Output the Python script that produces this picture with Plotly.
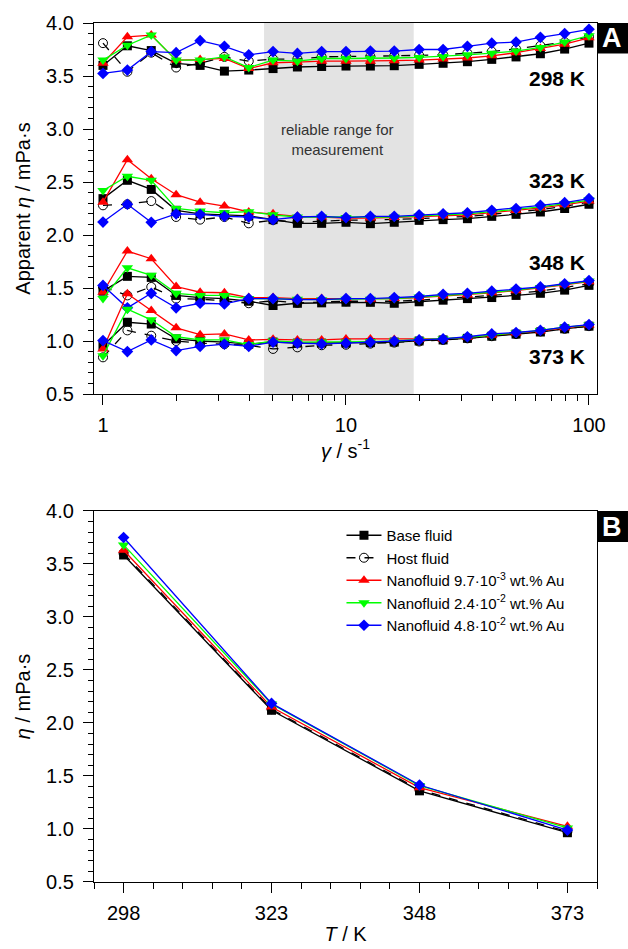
import plotly.graph_objects as go

# ---------------- data ----------------
shear_rate = [1.0, 1.26, 1.58, 2.0, 2.51, 3.16, 3.98, 5.01, 6.31, 7.94, 10.0,
              12.6, 15.8, 20.0, 25.1, 31.6, 39.8, 50.1, 63.1, 79.4, 100.0]

series_names = ["Base fluid", "Host fluid",
                "Nanofluid 9.7·10<sup>-3</sup> wt.% Au",
                "Nanofluid 2.4·10<sup>-2</sup> wt.% Au",
                "Nanofluid 4.8·10<sup>-2</sup> wt.% Au"]

# 298 K
base_298 = [3.60, 3.785, 3.74, 3.62, 3.60, 3.546, 3.556, 3.57, 3.585, 3.59, 3.594, 3.594, 3.597, 3.61, 3.62, 3.635, 3.657, 3.68, 3.71, 3.754, 3.81]
host_298 = [3.81, 3.54, 3.72, 3.58, 3.62, 3.68, 3.64, 3.66, 3.66, 3.68, 3.685, 3.685, 3.69, 3.695, 3.70, 3.715, 3.73, 3.755, 3.785, 3.82, 3.87]
red_298 = [3.62, 3.87, 3.886, 3.65, 3.655, 3.666, 3.57, 3.625, 3.63, 3.64, 3.64, 3.64, 3.645, 3.65, 3.66, 3.67, 3.69, 3.72, 3.76, 3.80, 3.86]
green_298 = [3.65, 3.79, 3.886, 3.65, 3.65, 3.68, 3.58, 3.65, 3.64, 3.665, 3.665, 3.665, 3.67, 3.675, 3.685, 3.70, 3.715, 3.735, 3.77, 3.82, 3.88]
blue_298 = [3.524, 3.556, 3.73, 3.72, 3.833, 3.78, 3.70, 3.73, 3.713, 3.73, 3.73, 3.735, 3.735, 3.75, 3.75, 3.78, 3.81, 3.82, 3.865, 3.90, 3.94]

# 323 K
base_323 = [2.343, 2.516, 2.43, 2.233, 2.20, 2.19, 2.18, 2.145, 2.11, 2.11, 2.12, 2.107, 2.12, 2.138, 2.145, 2.154, 2.176, 2.195, 2.217, 2.25, 2.29]
host_323 = [2.28, 2.29, 2.32, 2.17, 2.145, 2.17, 2.11, 2.14, 2.12, 2.13, 2.14, 2.14, 2.145, 2.155, 2.165, 2.175, 2.195, 2.215, 2.24, 2.27, 2.31]
red_323 = [2.31, 2.71, 2.53, 2.38, 2.31, 2.273, 2.217, 2.20, 2.176, 2.17, 2.16, 2.16, 2.165, 2.175, 2.18, 2.19, 2.21, 2.23, 2.255, 2.285, 2.32]
green_323 = [2.42, 2.554, 2.516, 2.25, 2.226, 2.21, 2.22, 2.19, 2.17, 2.17, 2.165, 2.165, 2.17, 2.18, 2.19, 2.20, 2.22, 2.24, 2.265, 2.295, 2.33]
blue_323 = [2.122, 2.29, 2.12, 2.20, 2.195, 2.176, 2.17, 2.145, 2.17, 2.176, 2.164, 2.176, 2.176, 2.19, 2.20, 2.21, 2.233, 2.25, 2.28, 2.305, 2.343]

# 348 K
base_348 = [1.47, 1.61, 1.60, 1.43, 1.41, 1.40, 1.375, 1.335, 1.356, 1.36, 1.366, 1.365, 1.356, 1.37, 1.385, 1.40, 1.41, 1.43, 1.45, 1.48, 1.525]
host_348 = [1.51, 1.43, 1.51, 1.40, 1.395, 1.38, 1.356, 1.38, 1.36, 1.37, 1.375, 1.375, 1.375, 1.385, 1.40, 1.41, 1.43, 1.45, 1.47, 1.505, 1.54]
red_348 = [1.46, 1.848, 1.776, 1.514, 1.46, 1.455, 1.41, 1.41, 1.40, 1.40, 1.40, 1.395, 1.40, 1.41, 1.425, 1.435, 1.455, 1.475, 1.50, 1.53, 1.56]
green_348 = [1.40, 1.69, 1.62, 1.45, 1.43, 1.43, 1.40, 1.395, 1.395, 1.39, 1.395, 1.395, 1.40, 1.415, 1.43, 1.44, 1.46, 1.48, 1.505, 1.535, 1.565]
blue_348 = [1.524, 1.313, 1.45, 1.313, 1.356, 1.35, 1.40, 1.40, 1.39, 1.39, 1.40, 1.40, 1.41, 1.42, 1.44, 1.45, 1.47, 1.49, 1.51, 1.54, 1.57]

# 373 K
base_373 = [0.956, 1.177, 1.16, 1.02, 1.0, 0.99, 0.97, 0.99, 0.98, 0.98, 0.98, 0.985, 0.99, 1.0, 1.01, 1.025, 1.045, 1.065, 1.085, 1.115, 1.14]
host_373 = [0.846, 1.10, 1.05, 1.0, 0.98, 0.97, 0.96, 0.925, 0.94, 0.96, 0.965, 0.975, 0.985, 0.995, 1.01, 1.025, 1.045, 1.065, 1.09, 1.115, 1.14]
red_373 = [0.925, 1.445, 1.287, 1.124, 1.06, 1.067, 1.01, 1.016, 1.01, 1.01, 1.02, 1.02, 1.015, 1.015, 1.02, 1.035, 1.055, 1.075, 1.095, 1.125, 1.15]
green_373 = [0.862, 1.30, 1.20, 1.04, 1.01, 1.01, 0.966, 1.0, 0.99, 0.99, 0.99, 0.995, 1.0, 1.01, 1.02, 1.035, 1.055, 1.075, 1.10, 1.13, 1.15]
blue_373 = [1.004, 0.90, 1.01, 0.91, 0.95, 0.97, 0.95, 0.99, 0.98, 0.973, 0.98, 0.99, 1.0, 1.01, 1.02, 1.04, 1.067, 1.08, 1.10, 1.13, 1.155]

temp_labels = ["298 K", "323 K", "348 K", "373 K"]
temp_label_y = [3.48, 2.51, 1.74, 0.855]

# Panel B: viscosity vs temperature
temperature = [298, 323, 348, 373]
base_T = [3.585, 2.12, 1.36, 0.965]
host_T = [3.60, 2.13, 1.37, 0.975]
red_T = [3.63, 2.15, 1.39, 1.025]
green_T = [3.68, 2.18, 1.41, 1.01]
blue_T = [3.75, 2.185, 1.415, 0.99]

reliable_range = [4.6, 19.0]

# ---------------- style ----------------
FONT = "Liberation Sans, Arial, sans-serif"
styles = [
    dict(color="black", symbol="square", fill="black", dash="solid", size=9),
    dict(color="black", symbol="circle-open", fill="black", dash="dash", size=9),
    dict(color="#ff0000", symbol="triangle-up", fill="#ff0000", dash="solid", size=10),
    dict(color="#00ff00", symbol="triangle-down", fill="#00ff00", dash="solid", size=10),
    dict(color="#0000ff", symbol="diamond", fill="#0000ff", dash="solid", size=9),
]

panelA = [
    [base_298, host_298, red_298, green_298, blue_298],
    [base_323, host_323, red_323, green_323, blue_323],
    [base_348, host_348, red_348, green_348, blue_348],
    [base_373, host_373, red_373, green_373, blue_373],
]
panelB = [base_T, host_T, red_T, green_T, blue_T]


def marker_for(i):
    s = styles[i]
    return dict(symbol=s["symbol"], size=s["size"], color=s["fill"],
                line=dict(width=1 if i == 1 else 0, color=s["color"]))


fig = go.Figure()

for temp_series in panelA:
    for i, ys in enumerate(temp_series):
        s = styles[i]
        fig.add_trace(go.Scatter(
            x=shear_rate, y=ys, mode="lines+markers",
            line=dict(color=s["color"], width=1.3, dash=s["dash"]),
            marker=marker_for(i),
            showlegend=False, xaxis="x", yaxis="y", name=series_names[i]))

for i, ys in enumerate(panelB):
    s = styles[i]
    fig.add_trace(go.Scatter(
        x=temperature, y=ys, mode="lines+markers",
        line=dict(color=s["color"], width=1.3, dash=s["dash"]),
        marker=marker_for(i),
        showlegend=True, xaxis="x2", yaxis="y2", name=series_names[i]))

axis_common = dict(showline=True, linecolor="black", linewidth=1.3, mirror=True,
                   ticks="outside", tickcolor="black", tickwidth=1.3, showgrid=False,
                   zeroline=False, automargin=False,
                   tickfont=dict(family=FONT, size=20, color="black"))
title_font = dict(family=FONT, size=20, color="black")

fig.update_layout(
    width=628, height=949,
    margin=dict(l=94, r=31, t=23, b=67),
    paper_bgcolor="white", plot_bgcolor="white",
    font=dict(family=FONT, color="black"),
    xaxis=dict(type="log", range=[-0.037, 2.033], tickvals=[1, 10, 100], ticktext=["1", "10", "100"],
               ticklen=10, anchor="y", ticklabelstandoff=3,
               minor=dict(tickvals=[2, 3, 4, 5, 6, 7, 8, 9, 20, 30, 40, 50, 60, 70, 80, 90],
                          ticks="outside", ticklen=6, tickwidth=1.3, tickcolor="black"),
               title=dict(text="<i>γ</i> / s<sup>-1</sup>", font=title_font, standoff=8),
               **axis_common),
    yaxis=dict(domain=[0.5681, 1.0], range=[0.5, 4.0], tickvals=[0.5, 1.0, 1.5, 2.0, 2.5, 3.0, 3.5, 4.0],
               tickformat=".1f", ticklen=10, anchor="x", ticklabelstandoff=5,
               minor=dict(dtick=0.1, ticks="outside", ticklen=5, tickwidth=1.3, tickcolor="black"),
               title=dict(text="Apparent <i>η</i> / mPa·s", font=title_font, standoff=10),
               **axis_common),
    xaxis2=dict(range=[293, 378], tickvals=[298, 323, 348, 373], ticklen=10, anchor="y2",
                ticklabelstandoff=3,
                minor=dict(dtick=5, tick0=293, ticks="outside", ticklen=6, tickwidth=1.3, tickcolor="black"),
                title=dict(text="<i>T</i> / K", font=title_font, standoff=3),
                **axis_common),
    yaxis2=dict(domain=[0.0, 0.4319], range=[0.5, 4.0], tickvals=[0.5, 1.0, 1.5, 2.0, 2.5, 3.0, 3.5, 4.0],
                tickformat=".1f", ticklen=10, anchor="x2", ticklabelstandoff=5,
                minor=dict(dtick=0.1, ticks="outside", ticklen=5, tickwidth=1.3, tickcolor="black"),
                title=dict(text="<i>η</i> / mPa·s", font=title_font, standoff=10),
                **axis_common),
    legend=dict(x=0.492, y=0.4226, xanchor="left", yanchor="top", bgcolor="rgba(0,0,0,0)",
                font=dict(family=FONT, size=15, color="black"), tracegroupgap=0, itemwidth=35),
    shapes=[
        dict(type="rect", xref="x", yref="y domain", x0=reliable_range[0], x1=reliable_range[1],
             y0=0, y1=1, fillcolor="#e3e3e3", line=dict(width=0), layer="below"),
        dict(type="rect", xref="paper", yref="paper", x0=1.0, x1=1.0616, y0=0.9645, y1=1.0,
             fillcolor="black", line=dict(width=0)),
        dict(type="rect", xref="paper", yref="paper", x0=1.0, x1=1.0616, y0=0.3958, y1=0.4319,
             fillcolor="black", line=dict(width=0)),
    ],
)

annotations = [
    dict(text="reliable range for<br>measurement", xref="paper", yref="y", x=0.485, y=2.90,
         xanchor="center", yanchor="middle",
         showarrow=False, font=dict(family=FONT, size=15, color="#333333"), align="center"),
    dict(text="<b>A</b>", xref="paper", yref="paper", x=1.0308, y=0.9822, showarrow=False,
         xanchor="center", yanchor="middle",
         font=dict(family=FONT, size=27, color="white")),
    dict(text="<b>B</b>", xref="paper", yref="paper", x=1.0308, y=0.4138, showarrow=False,
         xanchor="center", yanchor="middle",
         font=dict(family=FONT, size=27, color="white")),
]
for lab, yy in zip(temp_labels, temp_label_y):
    annotations.append(dict(text="<b>%s</b>" % lab, xref="paper", yref="y", x=0.980, y=yy,
                            xanchor="right", yanchor="middle", showarrow=False,
                            font=dict(family=FONT, size=21, color="black")))
fig.update_layout(annotations=annotations)

fig.write_html("out.html", config={"displayModeBar": False},
               post_script="document.body.style.margin='0px';")
